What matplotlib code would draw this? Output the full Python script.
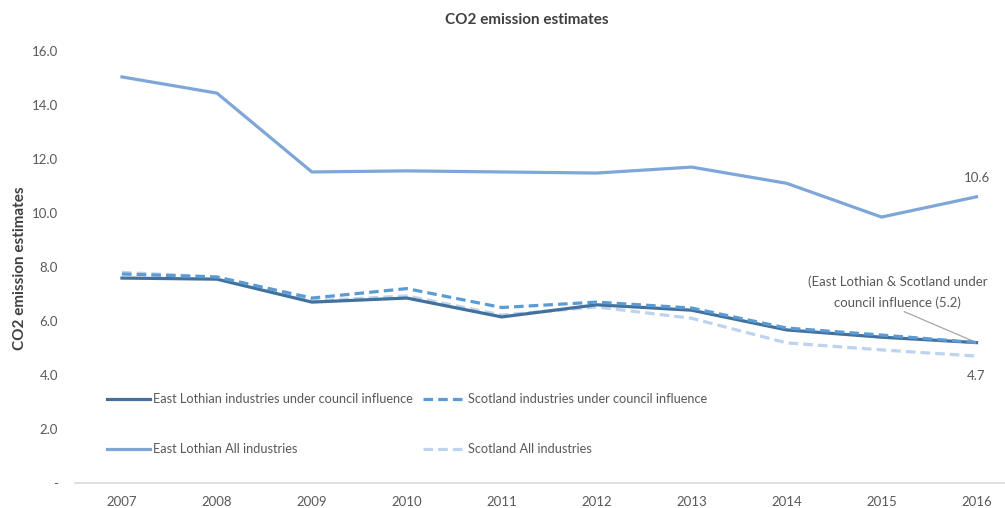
import matplotlib
matplotlib.use("Agg")
import matplotlib.pyplot as plt
from matplotlib.ticker import FuncFormatter

plt.rcParams['font.family'] = ['Lato', 'DejaVu Sans']

years = ['2007', '2008', '2009', '2010', '2011', '2012', '2013', '2014', '2015', '2016']
el_council = [7.59, 7.55, 6.70, 6.85, 6.15, 6.60, 6.40, 5.67, 5.40, 5.2]
scot_council = [7.74, 7.63, 6.85, 7.20, 6.50, 6.70, 6.48, 5.74, 5.48, 5.2]
el_all = [15.04, 14.44, 11.52, 11.56, 11.52, 11.48, 11.70, 11.10, 9.85, 10.6]
scot_all = [7.80, 7.63, 6.74, 6.93, 6.22, 6.52, 6.10, 5.19, 4.93, 4.7]

c_el_council = '#41719C'
c_scot_council = '#5B9BD5'
c_el_all = '#7EA6D8'
c_scot_all = '#BDD3EE'
txt = '#595959'

fig = plt.figure(figsize=(10.05, 5.08), dpi=100)
ax = fig.add_axes([74.5 / 1005, 1 - 483 / 508, 1 - 74.5 / 1005, (483 - 51) / 508])

x = list(range(len(years)))
lw = 2.3
l_scot_all, = ax.plot(x, scot_all, color=c_scot_all, lw=lw, ls=(0, (3, 1.6)),
                      label='Scotland All industries', zorder=2)
l_el_all, = ax.plot(x, el_all, color=c_el_all, lw=lw, label='East Lothian All industries', zorder=3)
l_el_council, = ax.plot(x, el_council, color=c_el_council, lw=lw,
                        label='East Lothian industries under council influence', zorder=4)
l_scot_council, = ax.plot(x, scot_council, color=c_scot_council, lw=lw, ls=(0, (3, 1.6)),
                          label='Scotland industries under council influence', zorder=5)

ax.set_xlim(-0.5, 9.3)
ax.set_ylim(0, 16)
ax.set_xticks(x)
ax.set_xticklabels(years)
ax.set_yticks([0, 2, 4, 6, 8, 10, 12, 14, 16])
ax.yaxis.set_major_formatter(FuncFormatter(lambda v, p: '-' if v == 0 else f'{v:.1f}'))
ax.tick_params(axis='both', length=0, labelsize=9.5, labelcolor=txt)
ax.tick_params(axis='y', pad=12)
ax.tick_params(axis='x', pad=9)
for s in ['top', 'right', 'left']:
    ax.spines[s].set_visible(False)
ax.spines['bottom'].set_color('#D9D9D9')
ax.spines['bottom'].set_linewidth(1.2)

fig.text(20 / 1005, 1 - 268 / 508, 'CO2 emission estimates', rotation=90, ha='center', va='center',
         fontsize=11, fontweight='bold', color='#404040')
fig.text(527 / 1005, 1 - 20 / 508, 'CO2 emission estimates', ha='center', va='center',
         fontsize=11, fontweight='bold', color='#404040')

# value labels at the last year
ax.annotate(f'{el_all[-1]:.1f}', (9, el_all[-1]), xytext=(0, 9), textcoords='offset points',
            ha='center', va='bottom', fontsize=9.5, color=txt)
ax.annotate(f'{scot_all[-1]:.1f}', (9, scot_all[-1]), xytext=(0, -10), textcoords='offset points',
            ha='center', va='top', fontsize=9.5, color=txt)
ax.annotate(f'(East Lothian & Scotland under\ncouncil influence ({el_council[-1]:.1f})',
            xy=(9, el_council[-1]), xytext=(8.17, 6.45), ha='center', va='bottom',
            fontsize=9.5, color=txt, linespacing=1.75,
            arrowprops=dict(arrowstyle='-', color='#A6A6A6', lw=0.9, shrinkA=0, shrinkB=0,
                            relpos=(0.5, 0.0)))

leg = ax.legend(handles=[l_el_council, l_el_all, l_scot_council, l_scot_all], ncol=2,
                loc='lower left', bbox_to_anchor=(0.0296, 0.052), frameon=False,
                fontsize=9.2, handlelength=3.35, labelspacing=2.97, columnspacing=0.85,
                handletextpad=0.2, borderaxespad=0)
for t in leg.get_texts():
    t.set_color(txt)

fig.savefig('out.png', dpi=100)
